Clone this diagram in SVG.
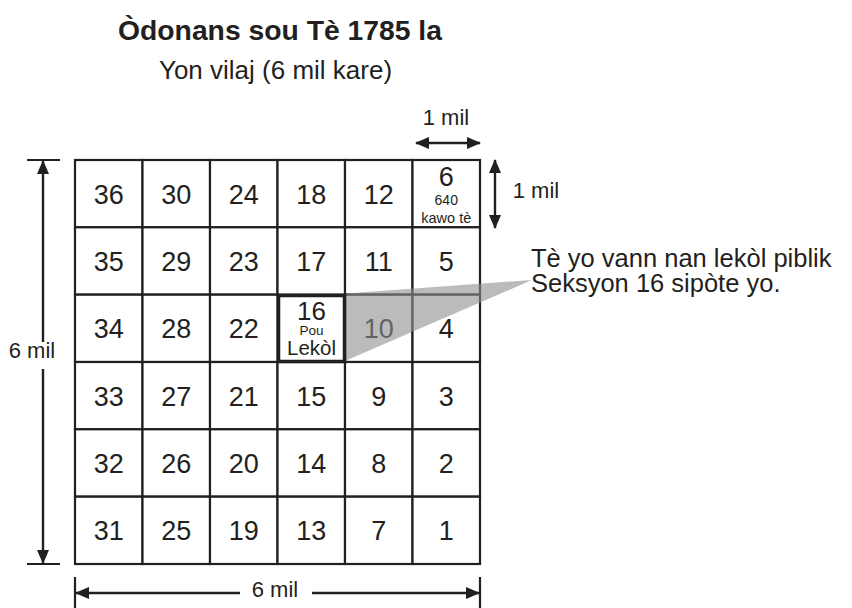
<svg xmlns="http://www.w3.org/2000/svg" width="852" height="608" viewBox="0 0 852 608">
<style>
text{font-family:"Liberation Sans",Arial,Helvetica,sans-serif;fill:#231f20;text-anchor:middle}
.cell{fill:#fff;stroke:#231f20;stroke-width:2.2}
.num{font-size:27px}
.dim{font-size:22px}
.ln{stroke:#231f20;stroke-width:2.2;fill:none}
.arr{stroke:#231f20;stroke-width:2.4;fill:none;marker-end:url(#ah);marker-start:url(#ah)}
</style>
<defs>
<marker id="ah" viewBox="0 0 14 12" refX="13" refY="6" markerWidth="14" markerHeight="12" markerUnits="userSpaceOnUse" orient="auto-start-reverse">
<path d="M0,0 L14,6 L0,12 Z" fill="#231f20"/>
</marker>
</defs>
<rect width="852" height="608" fill="#fff"/>
<g id="title">
<text x="280" y="40" style="font-size:28.3px;font-weight:bold">Òdonans sou Tè 1785 la</text>
<text x="275.5" y="79" style="font-size:26px">Yon vilaj (6 mil kare)</text>
</g>
<g id="grid">
<g id="c36"><rect class="cell" x="75" y="160" width="67.5" height="67.3"/><text class="num" x="108.75" y="203.5">36</text></g>
<g id="c35"><rect class="cell" x="75" y="227.3" width="67.5" height="67.3"/><text class="num" x="108.75" y="271">35</text></g>
<g id="c34"><rect class="cell" x="75" y="294.7" width="67.5" height="67.3"/><text class="num" x="108.75" y="338">34</text></g>
<g id="c33"><rect class="cell" x="75" y="362" width="67.5" height="67.3"/><text class="num" x="108.75" y="405.5">33</text></g>
<g id="c32"><rect class="cell" x="75" y="429.3" width="67.5" height="67.3"/><text class="num" x="108.75" y="473">32</text></g>
<g id="c31"><rect class="cell" x="75" y="496.7" width="67.5" height="67.3"/><text class="num" x="108.75" y="540">31</text></g>
<g id="c30"><rect class="cell" x="142.5" y="160" width="67.5" height="67.3"/><text class="num" x="176.25" y="203.5">30</text></g>
<g id="c29"><rect class="cell" x="142.5" y="227.3" width="67.5" height="67.3"/><text class="num" x="176.25" y="271">29</text></g>
<g id="c28"><rect class="cell" x="142.5" y="294.7" width="67.5" height="67.3"/><text class="num" x="176.25" y="338">28</text></g>
<g id="c27"><rect class="cell" x="142.5" y="362" width="67.5" height="67.3"/><text class="num" x="176.25" y="405.5">27</text></g>
<g id="c26"><rect class="cell" x="142.5" y="429.3" width="67.5" height="67.3"/><text class="num" x="176.25" y="473">26</text></g>
<g id="c25"><rect class="cell" x="142.5" y="496.7" width="67.5" height="67.3"/><text class="num" x="176.25" y="540">25</text></g>
<g id="c24"><rect class="cell" x="210" y="160" width="67.5" height="67.3"/><text class="num" x="243.75" y="203.5">24</text></g>
<g id="c23"><rect class="cell" x="210" y="227.3" width="67.5" height="67.3"/><text class="num" x="243.75" y="271">23</text></g>
<g id="c22"><rect class="cell" x="210" y="294.7" width="67.5" height="67.3"/><text class="num" x="243.75" y="338">22</text></g>
<g id="c21"><rect class="cell" x="210" y="362" width="67.5" height="67.3"/><text class="num" x="243.75" y="405.5">21</text></g>
<g id="c20"><rect class="cell" x="210" y="429.3" width="67.5" height="67.3"/><text class="num" x="243.75" y="473">20</text></g>
<g id="c19"><rect class="cell" x="210" y="496.7" width="67.5" height="67.3"/><text class="num" x="243.75" y="540">19</text></g>
<g id="c18"><rect class="cell" x="277.5" y="160" width="67.5" height="67.3"/><text class="num" x="311.25" y="203.5">18</text></g>
<g id="c17"><rect class="cell" x="277.5" y="227.3" width="67.5" height="67.3"/><text class="num" x="311.25" y="271">17</text></g>
<g id="c15"><rect class="cell" x="277.5" y="362" width="67.5" height="67.3"/><text class="num" x="311.25" y="405.5">15</text></g>
<g id="c14"><rect class="cell" x="277.5" y="429.3" width="67.5" height="67.3"/><text class="num" x="311.25" y="473">14</text></g>
<g id="c13"><rect class="cell" x="277.5" y="496.7" width="67.5" height="67.3"/><text class="num" x="311.25" y="540">13</text></g>
<g id="c12"><rect class="cell" x="345" y="160" width="67.5" height="67.3"/><text class="num" x="378.75" y="203.5">12</text></g>
<g id="c11"><rect class="cell" x="345" y="227.3" width="67.5" height="67.3"/><text class="num" x="378.75" y="271">11</text></g>
<g id="c10"><rect class="cell" x="345" y="294.7" width="67.5" height="67.3"/><text class="num" x="378.75" y="338">10</text></g>
<g id="c9"><rect class="cell" x="345" y="362" width="67.5" height="67.3"/><text class="num" x="378.75" y="405.5">9</text></g>
<g id="c8"><rect class="cell" x="345" y="429.3" width="67.5" height="67.3"/><text class="num" x="378.75" y="473">8</text></g>
<g id="c7"><rect class="cell" x="345" y="496.7" width="67.5" height="67.3"/><text class="num" x="378.75" y="540">7</text></g>
<g id="c6"><rect class="cell" x="412.5" y="160" width="67.5" height="67.3"/><text x="446.25" y="186" style="font-size:27px">6</text><text x="446.25" y="205" style="font-size:14px">640</text><text x="446.25" y="222.5" style="font-size:14.5px">kawo tè</text></g>
<g id="c5"><rect class="cell" x="412.5" y="227.3" width="67.5" height="67.3"/><text class="num" x="446.25" y="271">5</text></g>
<g id="c4"><rect class="cell" x="412.5" y="294.7" width="67.5" height="67.3"/><text class="num" x="446.25" y="338">4</text></g>
<g id="c3"><rect class="cell" x="412.5" y="362" width="67.5" height="67.3"/><text class="num" x="446.25" y="405.5">3</text></g>
<g id="c2"><rect class="cell" x="412.5" y="429.3" width="67.5" height="67.3"/><text class="num" x="446.25" y="473">2</text></g>
<g id="c1"><rect class="cell" x="412.5" y="496.7" width="67.5" height="67.3"/><text class="num" x="446.25" y="540">1</text></g>
</g>
<g id="connectors">
<polygon points="346,293.5 346,360.5 532,280" fill="#8e8e8e" fill-opacity="0.6"/>
<line class="arr" x1="416" y1="143" x2="480" y2="143"/>
<line class="arr" x1="495" y1="160" x2="495" y2="228"/>
<path class="ln" d="M27,160 H60 M27,564 H60 M75,577 V608 M480,577 V608"/>
<line class="arr" x1="43" y1="161" x2="43" y2="342" style="marker-end:none"/>
<line class="arr" x1="43" y1="369" x2="43" y2="563" style="marker-start:none"/>
<line class="arr" x1="76" y1="593" x2="240" y2="593" style="marker-end:none"/>
<line class="arr" x1="312" y1="593" x2="479" y2="593" style="marker-start:none"/>
</g>
<g id="c16">
<rect x="278.5" y="295.5" width="66" height="66" fill="#fff" stroke="#231f20" stroke-width="3.5"/>
<text x="311.5" y="319.5" style="font-size:26px">16</text>
<text x="311.5" y="334.5" style="font-size:13.5px">Pou</text>
<text x="311.5" y="355" style="font-size:20.5px">Lekòl</text>
</g>
<g id="labels">
<text class="dim" x="446" y="125">1 mil</text>
<text class="dim" x="536" y="198">1 mil</text>
<text class="dim" x="32" y="358">6 mil</text>
<text class="dim" x="275" y="597">6 mil</text>
<text x="531" y="267" style="font-size:25.5px;text-anchor:start">Tè yo vann nan lekòl piblik</text>
<text x="531" y="292" style="font-size:25.5px;text-anchor:start">Seksyon 16 sipòte yo.</text>
</g>
</svg>
